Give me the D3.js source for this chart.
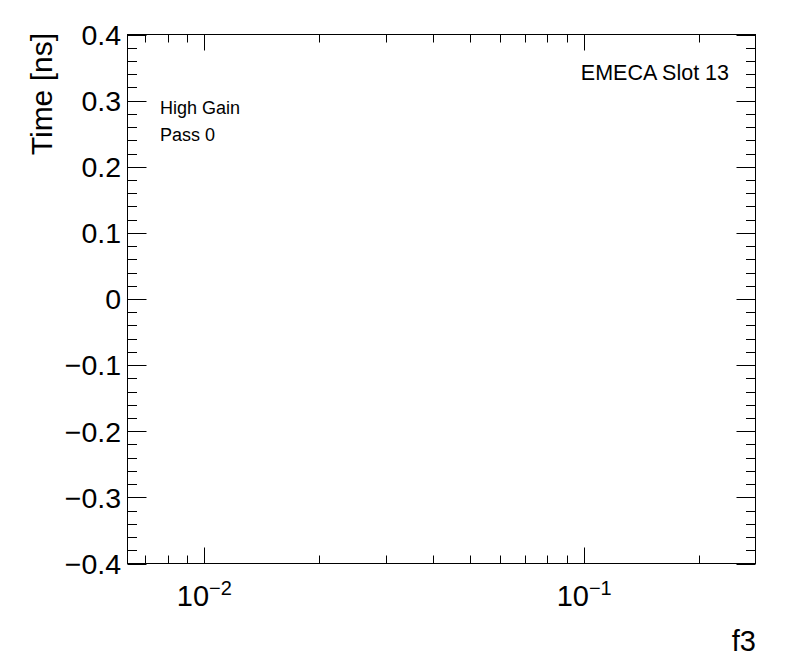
<!DOCTYPE html>
<html>
<head>
<meta charset="utf-8">
<script src="https://cdn.jsdelivr.net/npm/d3@7"></script>
<style>
  html, body { margin: 0; padding: 0; background: #fff; }
  svg text { font-family: "Liberation Sans", Arial, Helvetica, sans-serif; fill: #000; }
</style>
</head>
<body>
<svg id="chart" width="796" height="672"></svg>
<script>
// ---- data (empty frame: no points were drawn in the reference) ----
const xDomain = [0.006277, 0.2825];
const yDomain = [-0.4, 0.4];
const xMajorTicks = [0.01, 0.1];
const xMajorExponents = ["−2", "−1"];
const xMinorTicks = [0.007, 0.008, 0.009, 0.02, 0.03, 0.04, 0.05, 0.06, 0.07, 0.08, 0.09, 0.2];
const yMajorTicks = [-0.4, -0.3, -0.2, -0.1, 0, 0.1, 0.2, 0.3, 0.4];
const yMinorTicks = d3.range(-40, 41, 2).map(v => v / 100);
const seriesPoints = [];
const xTitle = "f3";
const yTitle = "Time [ns]";
const infoLines = ["High Gain", "Pass 0"];
const slotLabel = "EMECA Slot 13";

// ---- layout ----
const W = 796, H = 672;
const L = 127.5, R = 755.5, T = 34.5, B = 563.5;

const svg = d3.select("#chart");
const x = d3.scaleLog().domain(xDomain).range([L, R]);
const y = d3.scaleLinear().domain(yDomain).range([B, T]);

const xMajLen = 16, xMinLen = 8, yMajLen = 19, yMinLen = 9.5;

const g = svg.append("g").attr("stroke", "#000").attr("stroke-width", 1).attr("fill", "none");

// frame
g.append("rect").attr("x", L).attr("y", T).attr("width", R - L).attr("height", B - T);

// x ticks bottom & top
function xTicks(vals, len) {
  vals.forEach(v => {
    const px = Math.round(x(v)) + 0.5;
    g.append("line").attr("x1", px).attr("x2", px).attr("y1", B).attr("y2", B - len);
    g.append("line").attr("x1", px).attr("x2", px).attr("y1", T).attr("y2", T + len);
  });
}
xTicks(xMajorTicks, xMajLen);
xTicks(xMinorTicks, xMinLen);

// y ticks left & right
function yTicks(vals, len) {
  vals.forEach(v => {
    const py = Math.round(y(v)) + 0.5;
    g.append("line").attr("x1", L).attr("x2", L + len).attr("y1", py).attr("y2", py);
    g.append("line").attr("x1", R).attr("x2", R - len).attr("y1", py).attr("y2", py);
  });
}
yTicks(yMinorTicks.filter(v => !yMajorTicks.some(m => Math.abs(m - v) < 1e-9)), yMinLen);
yTicks(yMajorTicks, yMajLen);

// points (none in reference)
svg.append("g").selectAll("circle").data(seriesPoints).join("circle")
  .attr("cx", d => x(d[0])).attr("cy", d => y(d[1])).attr("r", 2);

// y tick labels
const fmtY = d3.format("");
svg.append("g").selectAll("text").data(yMajorTicks).join("text")
  .attr("x", 121).attr("y", d => y(d)).attr("dy", "0.36em")
  .attr("text-anchor", "end").attr("font-size", 28.5)
  .text(d => fmtY(Math.round(d * 10) / 10));

// x tick labels 10^n
const xl = svg.append("g").selectAll("text").data(xMajorTicks).join("text")
  .attr("x", d => x(d)).attr("y", 606).attr("text-anchor", "middle").attr("font-size", 29);
xl.append("tspan").text("10");
xl.append("tspan").attr("dy", -11).attr("font-size", 20).text((d, i) => xMajorExponents[i]);

// axis titles
svg.append("text").attr("x", 756).attr("y", 651).attr("text-anchor", "end")
  .attr("font-size", 29).text(xTitle);
svg.append("text").attr("transform", "translate(52,33) rotate(-90)")
  .attr("text-anchor", "end").attr("font-size", 30).text(yTitle);

// annotations
infoLines.forEach((t, i) => {
  svg.append("text").attr("x", 160).attr("y", 114 + i * 26.5)
    .attr("font-size", 18).text(t);
});
svg.append("text").attr("x", 729).attr("y", 79.5).attr("text-anchor", "end")
  .attr("font-size", 21.5).text(slotLabel);
</script>
</body>
</html>
